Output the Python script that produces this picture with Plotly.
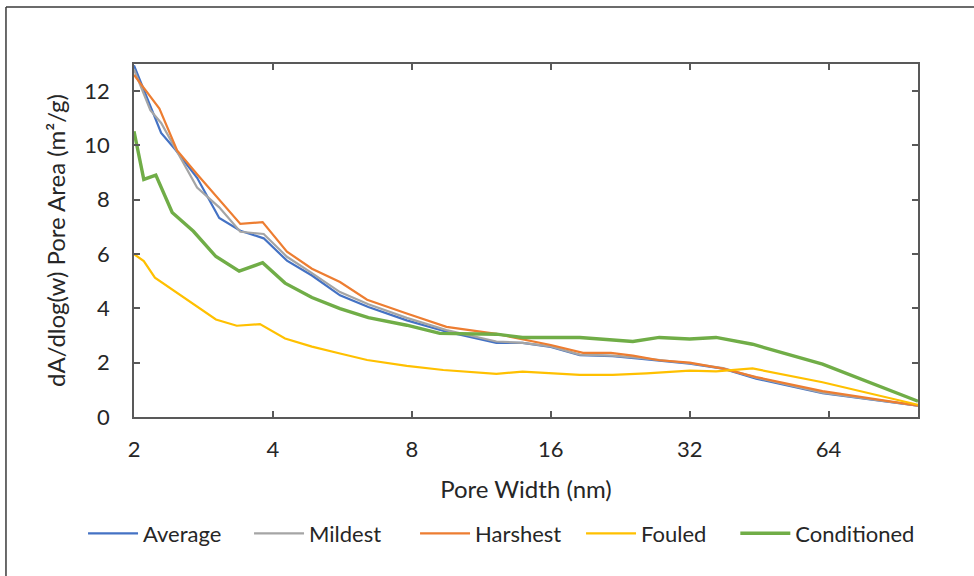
import plotly.graph_objects as go

# ---- data ----
avg_x = [2.0, 2.29, 2.46, 2.74, 3.06, 3.40, 3.82, 4.29, 4.86, 5.59, 6.44, 7.80, 9.51, 12.2, 13.9, 16.0, 18.5, 21.8, 24.9, 32.0, 37.8, 44.6, 62.1, 100]
avg_y = [12.95, 10.46, 9.84, 8.81, 7.33, 6.86, 6.58, 5.76, 5.21, 4.48, 4.05, 3.56, 3.14, 2.73, 2.73, 2.58, 2.28, 2.24, 2.15, 1.96, 1.78, 1.41, 0.88, 0.42]

mild_x = [2.0, 2.17, 2.29, 2.74, 3.06, 3.40, 3.82, 4.29, 4.86, 5.59, 6.44, 7.80, 9.51, 12.2, 13.9, 16.0, 18.5, 21.8, 24.9, 32.0, 37.8, 44.6, 62.1, 100]
mild_y = [12.8, 11.3, 10.83, 8.45, 7.72, 6.82, 6.74, 5.9, 5.3, 4.6, 4.15, 3.65, 3.2, 2.78, 2.73, 2.6, 2.3, 2.26, 2.18, 1.98, 1.8, 1.45, 0.9, 0.42]

harsh_x = [2.0, 2.27, 2.48, 2.74, 3.40, 3.80, 4.29, 4.86, 5.59, 6.40, 7.80, 9.51, 12.2, 16.0, 18.8, 21.6, 24.1, 27.5, 32.0, 37.8, 44.6, 62.1, 100]
harsh_y = [12.6, 11.36, 9.82, 8.94, 7.11, 7.18, 6.09, 5.46, 4.97, 4.32, 3.81, 3.32, 3.06, 2.65, 2.36, 2.36, 2.26, 2.09, 2.0, 1.78, 1.47, 0.95, 0.42]

foul_x = [2.0, 2.10, 2.22, 3.01, 3.34, 3.75, 4.25, 4.86, 5.59, 6.40, 7.80, 9.36, 12.2, 13.9, 18.5, 21.8, 25.8, 32.0, 36.5, 43.8, 62.1, 100]
foul_y = [6.0, 5.74, 5.13, 3.59, 3.36, 3.42, 2.89, 2.59, 2.34, 2.10, 1.88, 1.73, 1.59, 1.67, 1.55, 1.55, 1.61, 1.71, 1.68, 1.79, 1.28, 0.45]

cond_x = [2.0, 2.10, 2.23, 2.42, 2.69, 3.01, 3.38, 3.80, 4.25, 4.86, 5.59, 6.44, 7.80, 9.20, 12.2, 13.9, 18.5, 24.1, 27.5, 32.0, 36.5, 43.8, 62.1, 100]
cond_y = [10.52, 8.75, 8.91, 7.53, 6.84, 5.91, 5.37, 5.68, 4.93, 4.40, 3.99, 3.66, 3.38, 3.08, 3.05, 2.93, 2.93, 2.78, 2.93, 2.87, 2.93, 2.68, 1.95, 0.58]

x_ticks = [2, 4, 8, 16, 32, 64]
y_ticks = [0, 2, 4, 6, 8, 10, 12]

series = [
    ("Average", avg_x, avg_y, "#4472C4", 2.2, "legend"),
    ("Mildest", mild_x, mild_y, "#A5A5A5", 2.2, "legend"),
    ("Harshest", harsh_x, harsh_y, "#ED7D31", 2.2, "legend"),
    ("Fouled", foul_x, foul_y, "#FFC000", 2.2, "legend"),
    ("Conditioned", cond_x, cond_y, "#70AD47", 3.4, "legend2"),
]

FONT = "Lato, 'Open Sans', sans-serif"
AX = "#595959"
TXT = "#262626"

fig = go.Figure()
for name, xs, ys, col, w, lg in series:
    fig.add_trace(go.Scatter(x=xs, y=ys, name=name, mode="lines", legend=lg,
                             line=dict(color=col, width=w)))

legend_common = dict(orientation="h", xanchor="left", y=-0.33, yanchor="middle",
                     itemwidth=50, font=dict(family=FONT, size=22, color=TXT),
                     bgcolor="rgba(0,0,0,0)", traceorder="normal")

fig.update_layout(
    width=974, height=576,
    margin=dict(l=134, r=56, t=64, b=159, autoexpand=False),
    paper_bgcolor="white", plot_bgcolor="white",
    font=dict(family=FONT, size=22, color=TXT),
    showlegend=True,
    legend=dict(x=-0.065, entrywidthmode="pixels", entrywidth=101, **legend_common),
    legend2=dict(x=0.767, **legend_common),
    xaxis=dict(type="log", range=[0.30103, 2.0], tickvals=x_ticks,
               ticktext=[str(v) for v in x_ticks], tickfont=dict(size=22),
               showgrid=False, zeroline=False, showline=True, linecolor=AX, linewidth=1.5,
               mirror="ticks", ticks="inside", ticklen=6, tickcolor=AX, tickwidth=1.5,
               ticklabelstandoff=12,
               title=dict(text="Pore Width (nm)", standoff=20, font=dict(size=24))),
    yaxis=dict(range=[0, 13], tickvals=y_ticks, showgrid=False, zeroline=False,
               tickfont=dict(size=22),
               showline=True, linecolor=AX, linewidth=1.5,
               mirror="ticks", ticks="inside", ticklen=6, tickcolor=AX, tickwidth=1.5,
               ticklabelstandoff=18,
               title=dict(text="dA/dlog(w) Pore Area (m²/g)", standoff=12, font=dict(size=24))),
    shapes=[
        dict(type="line", xref="paper", yref="paper", x0=-0.1633, x1=1.08, y0=1.1615, y1=1.1615,
             line=dict(color="#3a3a3a", width=1.5)),
        dict(type="line", xref="paper", yref="paper", x0=-0.1633, x1=-0.1633, y0=1.1615, y1=-0.47,
             line=dict(color="#3a3a3a", width=1.5)),
    ],
)

fig.write_html("out.html")
